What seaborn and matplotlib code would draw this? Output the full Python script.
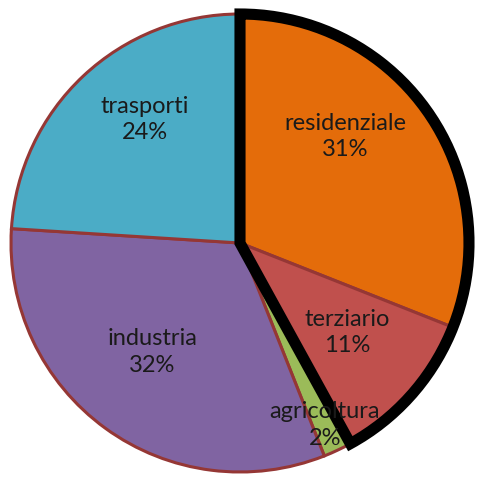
import numpy as np
import matplotlib
matplotlib.use('Agg')
import matplotlib.pyplot as plt
from matplotlib.patches import Wedge
import seaborn as sns

# Data
categories = ['residenziale', 'terziario', 'agricoltura', 'industria', 'trasporti']
shares = [31, 11, 2, 32, 24]
colors = ['#E46C0A', '#C0504D', '#9BBB59', '#8064A2', '#4BACC6']

# label positions (data units, pie radius = 1)
label_pos = [(0.46, 0.465), (0.47, -0.39), (0.37, -0.795), (-0.384, -0.476), (-0.415, 0.54)]

sns.set_style('white')
plt.rcParams['font.family'] = ['Lato', 'DejaVu Sans']

fig = plt.figure(figsize=(4.82, 4.84), dpi=100)
ax = fig.add_axes([0, 0, 1, 1])

wedges, _ = ax.pie(shares, colors=colors, startangle=90, counterclock=False,
                   radius=1.0,
                   wedgeprops=dict(edgecolor='#953735', linewidth=2.2))

# thick black outline round residenziale + terziario
theta2 = wedges[0].theta2
theta1 = wedges[1].theta1
outline = Wedge((0, 0), 1.0, theta1, theta2, fill=False, edgecolor='black',
                linewidth=8, joinstyle='miter')
ax.add_patch(outline)

for name, val, (x, y) in zip(categories, shares, label_pos):
    ax.text(x, y, f'{name}\n{val}%', ha='center', va='center', fontsize=17,
            color='#1a1a1a', linespacing=1.33)

ax.set_xlim(-240 / 229, 242 / 229)
ax.set_ylim(-(484 - 243) / 229, 243 / 229)
ax.set_aspect('equal')
ax.axis('off')

fig.savefig('out.png', dpi=100)
